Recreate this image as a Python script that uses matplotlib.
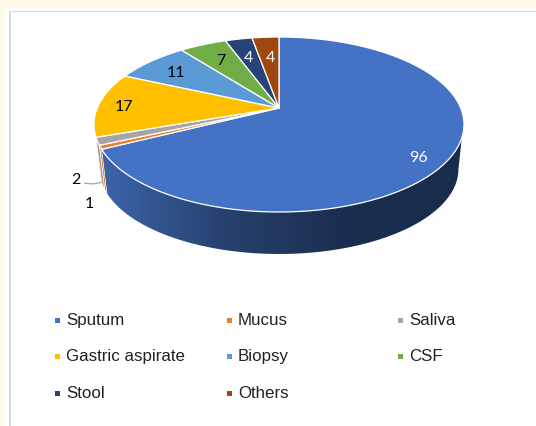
import numpy as np
import matplotlib
matplotlib.use("Agg")
import matplotlib.pyplot as plt
from matplotlib.colors import LinearSegmentedColormap
from matplotlib.patches import Polygon, Rectangle, PathPatch
from matplotlib.path import Path

categories = ["Sputum", "Mucus", "Saliva", "Gastric aspirate", "Biopsy", "CSF", "Stool", "Others"]
values = [96, 1, 2, 17, 11, 7, 4, 4]
colors = ["#4472C4", "#ED7D31", "#A5A5A5", "#FFC000", "#5B9BD5", "#70AD47", "#264478", "#9E480E"]
label_colors = ["white", "black", "black", "black", "black", "black", "white", "white"]

# Pie geometry in pixels, the ellipse is a perspective view of a circle
cx, cy = 279, 108
y_top, y_bottom = 37, 212
half_width = 185
depth = 42
base_scale = 0.97  # bottom face is a bit narrower

persp = (2 * cy - y_top - y_bottom) / (y_top - y_bottom)
a = y_top * (1 + persp) - cy
k = half_width * np.sqrt(1 - persp ** 2)


def project(theta):
    # theta in radians, clockwise from the top
    u, v = np.sin(theta), np.cos(theta)
    w = 1 + persp * v
    return cx + k * u / w, (a * v + cy) / w


def project_base(theta):
    x, y = project(theta)
    return cx + (x - cx) * base_scale, y * base_scale + (y_bottom + depth) - y_bottom * base_scale


def wall(t0, t1, t0_base=None):
    t = np.linspace(t0, t1, 80)
    tb = np.linspace(t0 if t0_base is None else t0_base, t1, 80)
    x, y = project(t)
    xb, yb = project_base(tb)
    return np.r_[np.c_[x, y], np.c_[xb, yb][::-1]]


fig = plt.figure(figsize=(5.36, 4.26), dpi=100, facecolor="#FFFBE8")
ax = fig.add_axes([0, 0, 1, 1])
ax.set_xlim(0, 536)
ax.set_ylim(426, 0)
ax.axis("off")

# Page frame
ax.add_patch(Rectangle((4, 8), 532, 418, fc="white", ec="none", zorder=0))
ax.add_patch(Rectangle((9, 11), 527, 1.2, fc="#DADADA", ec="none", zorder=1))
ax.add_patch(Rectangle((9, 11), 1.6, 415, fc="#DADADA", ec="none", zorder=1))

angles = np.cumsum([0] + values) / sum(values) * 2 * np.pi

# Side wall of the big slice, shaded from left to right
wall_cmap = LinearSegmentedColormap.from_list("wall", ["#3C64AC", "#27426F", "#1A2E50", "#1A2C4E"])
patch = Polygon(wall(np.radians(109.5), angles[1], np.radians(101)), closed=True, fc="none", ec="none", zorder=2)
ax.add_patch(patch)
grad = np.linspace(0, 1, 256).reshape(1, -1)
im = ax.imshow(grad, cmap=wall_cmap, extent=(100, 464, 260, 100), aspect="auto", zorder=2)
im.set_clip_path(patch)
ax.set_xlim(0, 536)
ax.set_ylim(426, 0)

# Thin walls of Mucus and Saliva at the left side
ax.add_patch(Polygon(wall(angles[1], angles[2]), closed=True, fc="#ED7D31", ec="white", lw=0.4, zorder=2))
ax.add_patch(Polygon(wall(angles[2], angles[3]), closed=True, fc="#A0A0A0", ec="white", lw=0.4, zorder=2))

# Top faces
for i, col in enumerate(colors):
    t = np.linspace(angles[i], angles[i + 1], 120)
    x, y = project(t)
    verts = np.r_[[[cx, cy]], np.c_[x, y]]
    ax.add_patch(Polygon(verts, closed=True, fc=col, ec="white", lw=0.9, joinstyle="round", zorder=3))

# Leader line of the label 2
leader = Path([(84, 183), (94, 185), (98, 183), (103, 182)],
              [Path.MOVETO, Path.CURVE4, Path.CURVE4, Path.CURVE4])
ax.add_patch(PathPatch(leader, fc="none", ec="#A6A6A6", lw=0.9, zorder=4))

# Data labels
label_x = [419, 89, 76, 124, 176, 221, 248, 270]
label_y = [158, 204, 180, 107, 73, 61, 58, 58]
for v, lx, ly, lc in zip(values, label_x, label_y, label_colors):
    ax.text(lx, ly, str(v), color=lc, fontsize=11.5, family="Lato", ha="center", va="center", zorder=5)

# Legend
legend_x = [57, 229, 400, 57, 229, 400, 57, 229]
legend_y = [320, 320, 320, 356.5, 356.5, 356.5, 393, 393]
for name, col, lx, ly in zip(categories, colors, legend_x, legend_y):
    ax.add_patch(Rectangle((lx - 2.5, ly - 2.5), 5, 5, fc=col, ec="none", zorder=5))
    ax.text(lx + 9, ly + 0.3, name, color="#222222", fontsize=12.2, family="Liberation Sans",
            ha="left", va="center", zorder=5)

fig.savefig("out.png", dpi=100, facecolor=fig.get_facecolor())
